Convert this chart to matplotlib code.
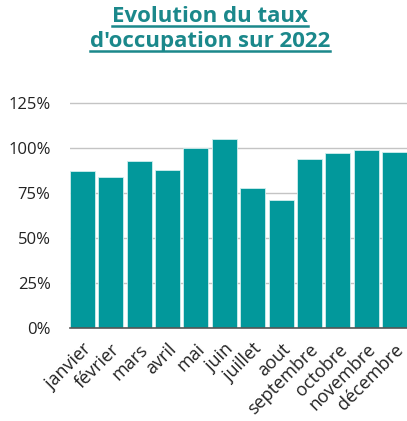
import matplotlib
matplotlib.use("Agg")
import matplotlib.pyplot as plt
from matplotlib.ticker import FuncFormatter

months = ["janvier", "février", "mars", "avril", "mai", "juin", "juillet",
          "aout", "septembre", "octobre", "novembre", "décembre"]
taux = [87, 84, 93, 88, 100, 105, 78, 71, 94, 97, 99, 98]
yticks = [0, 25, 50, 75, 100, 125]

bar_color = "#02989B"
title_color = "#1B888B"

plt.rcParams['font.family'] = ['Open Sans', 'DejaVu Sans']
fig = plt.figure(figsize=(4.07, 4.21), dpi=100)
ax = fig.add_axes([70/407, 1-328/421, 337/407, 225/421 * (130/125)])

ax.bar(range(len(months)), taux, width=0.88, color=bar_color,
       edgecolor="#cfeeee", linewidth=0.6, zorder=3)
ax.set_xlim(-0.44, 11.44)
ax.set_ylim(0, 130)
ax.set_yticks(yticks)
ax.yaxis.set_major_formatter(FuncFormatter(lambda v, p: f"{int(v)}%"))
ax.grid(axis='y', color="#c4c4c4", linewidth=1.0, zorder=0)
ax.set_xticks(range(len(months)))
ax.set_xticklabels(months, rotation=45, ha='right', rotation_mode='anchor')
ax.tick_params(axis='both', length=0, colors="#222222")
ax.tick_params(axis='y', pad=14, labelsize=12)
ax.tick_params(axis='x', pad=9, labelsize=13)
for s in ['top', 'right', 'left']:
    ax.spines[s].set_visible(False)
ax.spines['bottom'].set_color("#555555")
ax.spines['bottom'].set_linewidth(1.2)
ax.spines['bottom'].set_zorder(4)

lines = ["Evolution du taux", "d'occupation sur 2022"]
ys = [1-22/421, 1-47/421]
fig.canvas.draw()
r = fig.canvas.get_renderer()
for line, y in zip(lines, ys):
    t = fig.text(210/407, y, line, ha='center', va='baseline', fontsize=16,
                 fontweight='bold', color=title_color)
    bb = t.get_window_extent(renderer=r)
    x0, x1 = bb.x0/fig.bbox.width, bb.x1/fig.bbox.width
    uy = y - 3.5/421
    fig.add_artist(plt.Line2D([x0, x1], [uy, uy], color=title_color,
                              linewidth=1.8, transform=fig.transFigure))

fig.savefig("out.png", dpi=100)
